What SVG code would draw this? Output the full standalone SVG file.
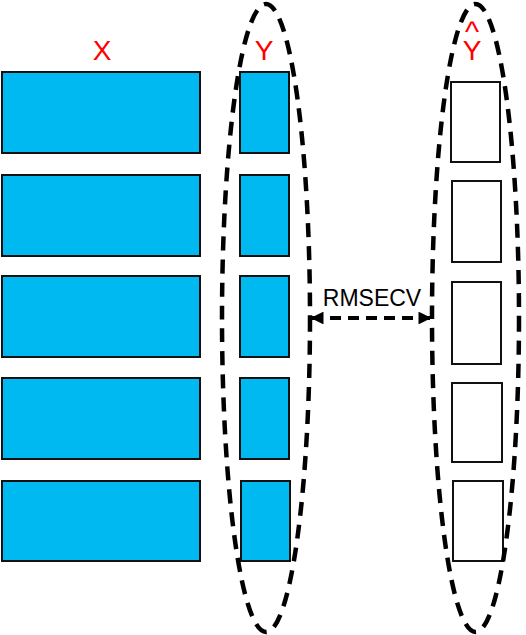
<svg xmlns="http://www.w3.org/2000/svg" width="526" height="635" viewBox="0 0 526 635">
<defs>
<style>
.xb{fill:#00b9f1;stroke:#111;stroke-width:2}
.yb{fill:#00b9f1;stroke:#111;stroke-width:2}
.hb{fill:#fff;stroke:#111;stroke-width:2}
.ell{fill:none;stroke:#000;stroke-width:4.5;stroke-dasharray:14 9}
.lbl{font-family:"Liberation Sans",Arial,sans-serif;font-size:28px;fill:#ff0000;text-anchor:middle}
.txt{font-family:"Liberation Sans",Arial,sans-serif;font-size:23px;fill:#000;text-anchor:middle}
</style>
<marker id="ah" viewBox="0 0 10 10" refX="9" refY="5" markerWidth="3.2" markerHeight="3.2" orient="auto-start-reverse" markerUnits="strokeWidth">
<path d="M0,0 L10,5 L0,10 Z" fill="#000"/>
</marker>
</defs>
<rect width="526" height="635" fill="#fff"/>
<g id="X">
<text class="lbl" x="102" y="60">X</text>
<rect class="xb" x="2" y="72" width="198" height="81"/>
<rect class="xb" x="2" y="175" width="198" height="81"/>
<rect class="xb" x="2" y="276" width="198" height="81"/>
<rect class="xb" x="2" y="378" width="198" height="81"/>
<rect class="xb" x="2" y="481" width="198" height="80"/>
</g>
<g id="Y">
<text class="lbl" x="264" y="60">Y</text>
<rect class="yb" x="240" y="72" width="49" height="81"/>
<rect class="yb" x="240" y="175" width="49" height="81"/>
<rect class="yb" x="240" y="276" width="49" height="81"/>
<rect class="yb" x="240" y="378" width="49" height="81"/>
<rect class="yb" x="241" y="481" width="49" height="80"/>
<ellipse class="ell" cx="266" cy="318" rx="44" ry="314"/>
</g>
<g id="Yhat">
<text class="lbl" x="472" y="60">Y</text>
<text class="lbl" x="472" y="42" style="font-size:30px">^</text>
<rect class="hb" x="451" y="82" width="49" height="80"/>
<rect class="hb" x="452" y="181" width="49" height="81"/>
<rect class="hb" x="452" y="282" width="49" height="82"/>
<rect class="hb" x="452" y="383" width="50" height="79"/>
<rect class="hb" x="453" y="481" width="50" height="80"/>
<ellipse class="ell" cx="475.5" cy="318" rx="43.5" ry="314"/>
</g>
<g id="connectors">
<line x1="312" y1="318" x2="430" y2="318" stroke="#000" stroke-width="4" stroke-dasharray="11 7" marker-start="url(#ah)" marker-end="url(#ah)"/>
<text class="txt" x="372" y="306">RMSECV</text>
</g>
</svg>
